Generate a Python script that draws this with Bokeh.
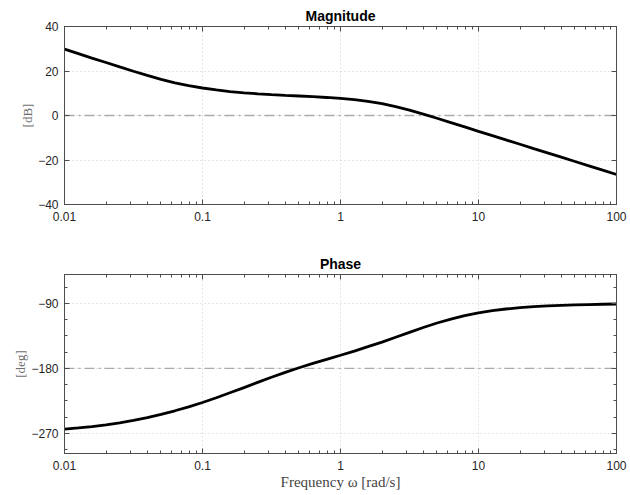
from bokeh.plotting import figure
from bokeh.layouts import column
from bokeh.models import (LogAxis, LinearAxis, FixedTicker, Span, Range1d,
                          CustomJSTickFormatter)
from bokeh.embed import file_html
from bokeh.resources import INLINE

# ---- data ----
freq = [0.01, 0.0126, 0.0158, 0.02, 0.0251, 0.0316, 0.0398, 0.0501, 0.0631,
        0.0794, 0.1, 0.126, 0.158, 0.2, 0.251, 0.316, 0.398, 0.501, 0.631,
        0.794, 1, 1.26, 1.58, 2.0, 2.51, 3.16, 3.98, 5.01, 6.31, 7.94, 10,
        12.6, 15.8, 20, 25.1, 31.6, 39.8, 50.1, 63.1, 79.4, 100]
mag_db = [29.8, 27.8, 25.81, 23.82, 21.85, 19.9, 18.01, 16.23, 14.68, 13.41,
          12.36, 11.49, 10.77, 10.21, 9.76, 9.39, 9.06, 8.76, 8.45, 8.1,
          7.67, 7.1, 6.33, 5.3, 3.98, 2.4, 0.65, -1.25, -3.2, -5.15, -7.1,
          -9.04, -10.98, -12.92, -14.86, -16.8, -18.74, -20.68, -22.62,
          -24.56, -26.5]
phase_deg = [-264.1, -262.6, -260.7, -258.4, -255.6, -252.2, -248.3, -243.8,
             -238.8, -233.3, -227.3, -220.7, -213.8, -206.8, -199.5, -192.4,
             -185.6, -179.2, -173.2, -167.5, -161.9, -156.1, -150.0, -143.6,
             -136.9, -130.1, -123.4, -117.2, -111.7, -107.0, -103.2, -100.2,
             -97.8, -96.0, -94.6, -93.5, -92.7, -92.1, -91.6, -91.2, -90.9]

x_ticks = [0.01, 0.1, 1, 10, 100]
x_minor = [0.02, 0.03, 0.04, 0.05, 0.06, 0.07, 0.08, 0.09,
           0.2, 0.3, 0.4, 0.5, 0.6, 0.7, 0.8, 0.9,
           2, 3, 4, 5, 6, 7, 8, 9,
           20, 30, 40, 50, 60, 70, 80, 90]
mag_ticks = [-40, -20, 0, 20, 40]
phase_ticks = [-270, -180, -90]
phase_minor = [-292.5, -270, -247.5, -225, -202.5, -180, -157.5, -135,
               -112.5, -90, -67.5]
mag_ref = 0
phase_ref = -180

AX = "#4d4d4d"
TXT = "#262626"


def make_fig(title, y_rng, yticks, yminor, ylabel, height, btop, bbot,
             tstand, xlabel=None):
    p = figure(width=630, height=height, x_axis_type="log",
               x_range=Range1d(0.01, 100), y_range=Range1d(*y_rng),
               output_backend="svg", toolbar_location=None,
               min_border_left=64, min_border_right=14,
               min_border_top=btop, min_border_bottom=bbot, title=title)
    p.title.align = "center"
    p.title.text_font = "Liberation Sans"
    p.title.text_font_size = "14px"
    p.title.text_font_style = "bold"
    p.title.text_color = "#000000"
    p.title.standoff = tstand

    bottom = p.below[0]
    left = p.left[0]

    xt = FixedTicker(ticks=x_ticks, minor_ticks=x_minor)
    yt = FixedTicker(ticks=yticks, minor_ticks=yminor)
    bottom.ticker = xt
    left.ticker = yt
    bottom.formatter = CustomJSTickFormatter(code="return tick.toString();")

    top = LogAxis(ticker=xt)
    right = LinearAxis(ticker=yt)
    for ax in (top, right):
        ax.formatter = CustomJSTickFormatter(code="return '';")
        ax.major_label_text_font_size = "0px"
        ax.major_label_standoff = 0
    p.add_layout(top, "above")
    p.add_layout(right, "right")

    for ax in (bottom, left, top, right):
        ax.axis_line_color = AX
        ax.major_tick_line_color = AX
        ax.minor_tick_line_color = AX
        ax.major_tick_in = 5
        ax.major_tick_out = 0
        ax.minor_tick_in = 3
        ax.minor_tick_out = 0
        ax.major_label_text_font = "Liberation Sans"
        ax.major_label_text_color = TXT
    for ax in (bottom, left):
        ax.major_label_text_font_size = "12px"
    bottom.major_label_standoff = 7
    left.major_label_standoff = 6

    left.axis_label = ylabel
    left.axis_label_text_font = "Liberation Serif"
    left.axis_label_text_font_style = "normal"
    left.axis_label_text_font_size = "13px"
    left.axis_label_text_color = "#6e6e6e"
    left.axis_label_standoff = 0
    if xlabel:
        bottom.axis_label = xlabel
        bottom.axis_label_text_font = "Liberation Serif"
        bottom.axis_label_text_font_style = "normal"
        bottom.axis_label_text_font_size = "15px"
        bottom.axis_label_text_color = "#444444"
        bottom.axis_label_standoff = 1

    p.outline_line_color = AX
    p.outline_line_alpha = 1
    p.xgrid.grid_line_color = "#cccccc"
    p.xgrid.grid_line_dash = "1 3"
    p.ygrid.grid_line_color = "#cccccc"
    p.ygrid.grid_line_dash = "1 3"
    p.background_fill_color = "white"
    p.border_fill_color = "white"
    return p


p1 = make_fig("Magnitude", (-40, 40), mag_ticks, [], "[dB]", 244, 26, 40, 6)
p1.add_layout(Span(location=mag_ref, dimension="width", line_color="#aaaaaa",
                   line_width=1.3, line_dash="10 4 2 4", level="underlay"))
p1.line(freq, mag_db, line_color="black", line_width=2.8)

p2 = make_fig("Phase", (-298, -50), phase_ticks, phase_minor, "[deg]", 251, 30, 42,
              5, xlabel="Frequency ω [rad/s]")
p2.add_layout(Span(location=phase_ref, dimension="width", line_color="#aaaaaa",
                   line_width=1.3, line_dash="10 4 2 4", level="underlay"))
p2.line(freq, phase_deg, line_color="black", line_width=2.8)

layout = column(p1, p2, spacing=0)
open("out.html", "w").write(file_html(layout, INLINE))
